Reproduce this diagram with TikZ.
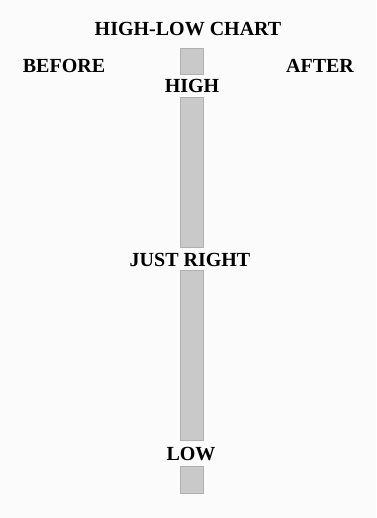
\documentclass[tikz,border=0pt]{standalone}
\usepackage{fontspec}
\setmainfont{Liberation Serif}
\usetikzlibrary{positioning}

\tikzset{
  lbl/.style={font=\bfseries\fontsize{20}{20}\selectfont, inner sep=0pt},
  barseg/.style={fill=gray!42, draw=gray!62}
}

\begin{document}
\begin{tikzpicture}[x=1pt,y=-1pt]
    \fill[gray!3] (0,0) rectangle (376,518);

    \node[lbl] (title) at (188,29) {HIGH-LOW CHART};
    \node[lbl] (before) at (64,65.5) {BEFORE};
    \node[lbl] (after) at (320,65.5) {AFTER};

    \node[lbl] (high) at (192,85.5) {HIGH};
    \node[lbl] (justright) at (190,260) {JUST RIGHT};
    \node[lbl] (low) at (191,454) {LOW};

    % the bar, broken by the labels
    \draw[barseg] (180.5,48) rectangle (203,74);
    \draw[barseg] (180.5,97) rectangle (203,247);
    \draw[barseg] (180.5,270) rectangle (203,440);
    \draw[barseg] (180.5,466) rectangle (203,493);
\end{tikzpicture}
\end{document}
